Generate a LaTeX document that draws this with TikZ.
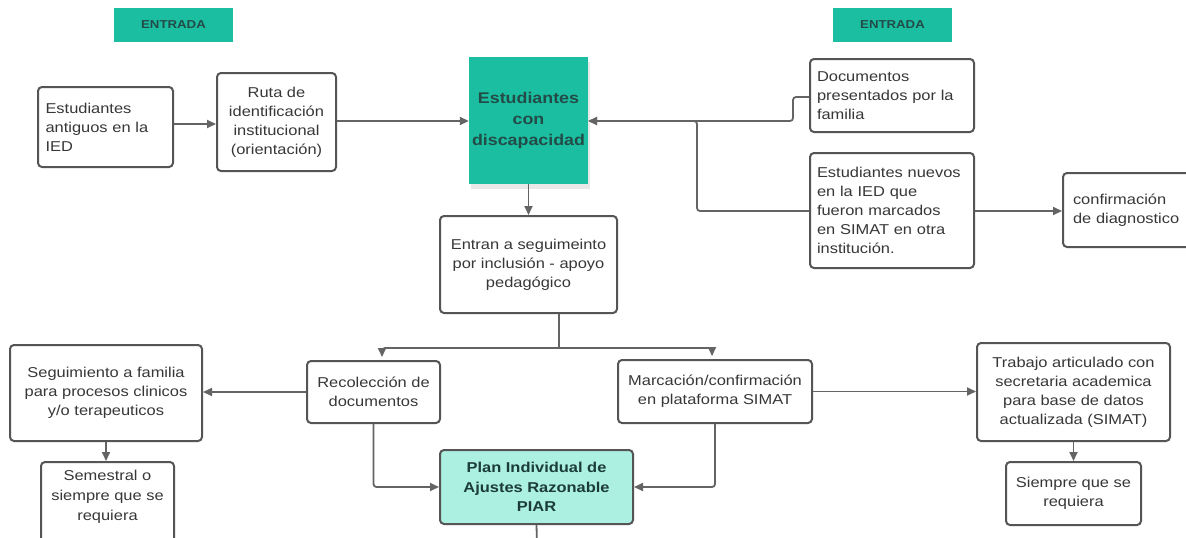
\documentclass[tikz,border=0pt]{standalone}
\usepackage{fontspec}
\setmainfont{Liberation Sans}[FakeStretch=1.15]
\usetikzlibrary{arrows.meta,calc,shadows}
\hyphenpenalty=10000
\exhyphenpenalty=10000
\definecolor{teal1}{RGB}{27,190,160}
\definecolor{piarfill}{RGB}{172,240,226}
\definecolor{tealtxt}{RGB}{35,75,72}
\definecolor{boxline}{RGB}{85,85,85}
\definecolor{conline}{RGB}{100,100,100}
\definecolor{txt}{RGB}{55,55,55}
\begin{document}
\begin{tikzpicture}[x=1pt,y=-1pt,
  box/.style={draw=boxline,line width=2pt,rounded corners=4pt,fill=white,
    inner sep=0pt,text=txt,font=\fontsize{14.3}{19}\selectfont},
  lbox/.style={box,align=left},
  cbox/.style={box,align=center},
  entrada/.style={fill=teal1,inner sep=0pt,text=tealtxt,
    font=\fontsize{11.5}{13}\selectfont\bfseries,minimum width=119pt,minimum height=34pt},
  arr/.style={draw=conline,line width=1.8pt,-{Triangle[length=9pt,width=8pt]}},
  con/.style={draw=conline,line width=1.8pt}]
\useasboundingbox (0,0) rectangle (1186,538);
\clip (0,0) rectangle (1186,538);
\fill[white] (0,0) rectangle (1186,538);

% ENTRADA labels
\node[entrada] (ent1) at (173.5,25) {ENTRADA};
\node[entrada] (ent2) at (892.5,25) {ENTRADA};

% top row
\node[lbox,minimum width=135pt,minimum height=80pt,text width=120pt] (antig) at (105.5,127) {Estudiantes\\antiguos en la\\IED};
\node[cbox,minimum width=119pt,minimum height=98pt] (ruta) at (276.5,122) {Ruta de\\identificación\\institucional\\(orientación)};
\node[fill=teal1,minimum width=119pt,minimum height=127pt,inner sep=0pt,align=center,
  text=tealtxt,font=\fontsize{15.5}{21}\selectfont\bfseries,
  drop shadow={opacity=0.18,shadow xshift=2pt,shadow yshift=-5pt}] (teal) at (528.5,120.5) {Estudiantes\\con\\discapacidad};
\node[lbox,minimum width=164pt,minimum height=73pt,text width=150pt] (docs) at (892,95.5) {Documentos\\presentados por la\\familia};
\node[lbox,minimum width=164pt,minimum height=115pt,text width=150pt] (nuevos) at (892,210.5) {Estudiantes nuevos\\en la IED que\\fueron marcados\\en SIMAT en otra\\institución.};
\node[lbox,minimum width=136pt,minimum height=74pt,text width=116pt] (conf) at (1131,210) {confirmación\\de diagnostico};

% middle
\node[cbox,minimum width=177pt,minimum height=97pt] (entran) at (528.5,264.5) {Entran a seguimeinto\\por inclusión - apoyo\\pedagógico};
\node[cbox,minimum width=192pt,minimum height=96pt] (seguim) at (106,393) {Seguimiento a familia\\para procesos clinicos\\y/o terapeuticos};
\node[cbox,minimum width=133pt,minimum height=62pt] (recol) at (373.5,392) {Recolección de\\documentos};
\node[cbox,minimum width=194pt,minimum height=63pt] (marc) at (715,391.5) {Marcación/confirmación\\en plataforma SIMAT};
\node[cbox,minimum width=193pt,minimum height=98pt] (trabajo) at (1073.5,392) {Trabajo articulado con\\secretaria academica\\para base de datos\\actualizada (SIMAT)};

% bottom
\node[box,minimum width=133pt,minimum height=86pt] (semestral) at (107.5,505) {};
\node[align=center,text=txt,font=\fontsize{14.3}{20}\selectfont] (semtxt) at (107.5,497) {Semestral o\\siempre que se\\requiera};
\node[cbox,minimum width=135pt,minimum height=63pt] (siempre) at (1073.5,493.5) {Siempre que se\\requiera};
\node[box,fill=piarfill,minimum width=193pt,minimum height=74pt,align=center,
  text=tealtxt!80!black,font=\fontsize{14.3}{19.5}\selectfont\bfseries] (piar) at (536.5,487) {Plan Individual de\\Ajustes Razonable\\PIAR};
\coordinate (piarend) at (537,545);

% connectors
\draw[arr] (antig.east |- 0,124) -- (ruta.west |- 0,124);
\draw[arr] (ruta.east |- 0,121) -- (teal.west |- 0,121);
\draw[arr,rounded corners=3pt] (docs.west |- 0,97) -- (793,97) -- (793,121) -- (teal.east |- 0,121);
\draw[arr,rounded corners=3pt] (nuevos.west |- 0,211) -- (697,211) -- (697,121) -- (teal.east |- 0,121);
\draw[arr] (nuevos.east |- 0,211) -- (conf.west |- 0,211);
\draw[arr] (teal.south) -- (entran.north);

\coordinate (split) at (559,348);
\draw[con] (entran.south -| split) -- (split);
\draw[arr,rounded corners=3pt] (split) -- (382,348) -- ([xshift=8.5pt,yshift=3pt]recol.north);
\draw[arr,rounded corners=3pt] (split) -- (712,348) -- ([xshift=-3pt,yshift=3pt]marc.north);

\draw[arr] (recol.west) -- (seguim.east |- recol.west);
\draw[arr] (seguim.south) -- (semestral.north -| seguim.south);
\draw[arr,rounded corners=3pt] (recol.south) |- (piar.west);
\draw[arr,rounded corners=3pt] (marc.south) |- (piar.east);
\draw[arr] (marc.east) -- (trabajo.west |- marc.east);
\draw[arr] (trabajo.south) -- (siempre.north);
\draw[con] (piar.south) -- (piarend);
\end{tikzpicture}
\end{document}
